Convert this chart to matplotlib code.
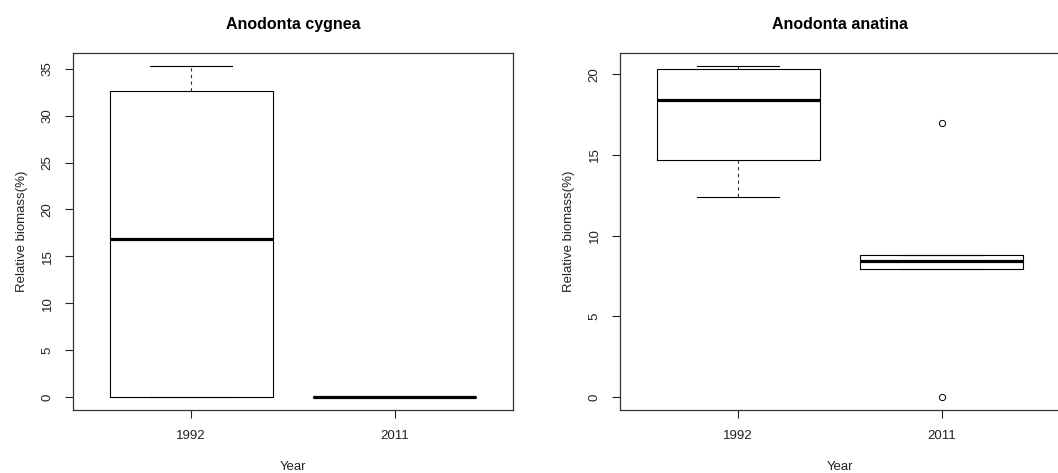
import numpy as np
import matplotlib.pyplot as plt

plt.rcParams['font.family'] = ['Liberation Sans', 'DejaVu Sans']

# box statistics
years = ["1992", "2011"]
titles = ["Anodonta cygnea", "Anodonta anatina"]

cyg_low = [0.0, 0.0]
cyg_q1 = [0.0, 0.0]
cyg_med = [16.8, 0.0]
cyg_q3 = [32.6, 0.0]
cyg_high = [35.3, 0.0]
cyg_out = [[], []]

ana_low = [12.4, 7.9]
ana_q1 = [14.7, 7.9]
ana_med = [18.4, 8.45]
ana_q3 = [20.3, 8.8]
ana_high = [20.5, 8.8]
ana_out = [[], [17.0, 0.0]]

ylims = [(-1.41, 36.7), (-0.82, 21.32)]
yticks = [np.arange(0, 36, 5), np.arange(0, 21, 5)]


def stats(low, q1, med, q3, high, out):
    return [dict(whislo=low[i], q1=q1[i], med=med[i], q3=q3[i],
                 whishi=high[i], fliers=out[i], label=years[i])
            for i in range(len(years))]


fig = plt.figure(figsize=(10.58, 4.73), dpi=100)
ax1 = fig.add_axes([0.069, 0.133, 0.416, 0.755])
ax2 = fig.add_axes([0.586, 0.133, 0.416, 0.755])

data = [stats(cyg_low, cyg_q1, cyg_med, cyg_q3, cyg_high, cyg_out),
        stats(ana_low, ana_q1, ana_med, ana_q3, ana_high, ana_out)]

for ax, st, title, yl, yt in zip([ax1, ax2], data, titles, ylims, yticks):
    ax.bxp(st, positions=[1, 2], widths=0.8, capwidths=0.4,
           boxprops=dict(color='black', lw=0.8),
           medianprops=dict(color='black', lw=2.3, solid_capstyle='butt'),
           whiskerprops=dict(color='#333333', lw=0.8, linestyle=(0, (3, 3))),
           capprops=dict(color='black', lw=0.8),
           flierprops=dict(marker='o', markersize=4.5, markerfacecolor='none',
                           markeredgecolor='black', markeredgewidth=0.7))
    ax.set_xlim(0.42, 2.58)
    ax.set_ylim(*yl)
    ax.set_yticks(yt)
    ax.set_yticklabels([str(v) for v in yt], rotation=90, va='center')
    ax.tick_params(axis='both', length=6, width=0.8, labelsize=9.5,
                   colors='#222222', pad=8)
    for s in ax.spines.values():
        s.set_linewidth(0.9)
        s.set_color('#333333')
    ax.set_title(title, fontsize=11.5, fontweight='bold', pad=17)
    ax.set_xlabel("Year", fontsize=9.5, color='#222222', labelpad=14)
    ax.set_ylabel("Relative biomass(%)", fontsize=9.5, color='#222222', labelpad=10)

fig.savefig("out.png", dpi=100)
